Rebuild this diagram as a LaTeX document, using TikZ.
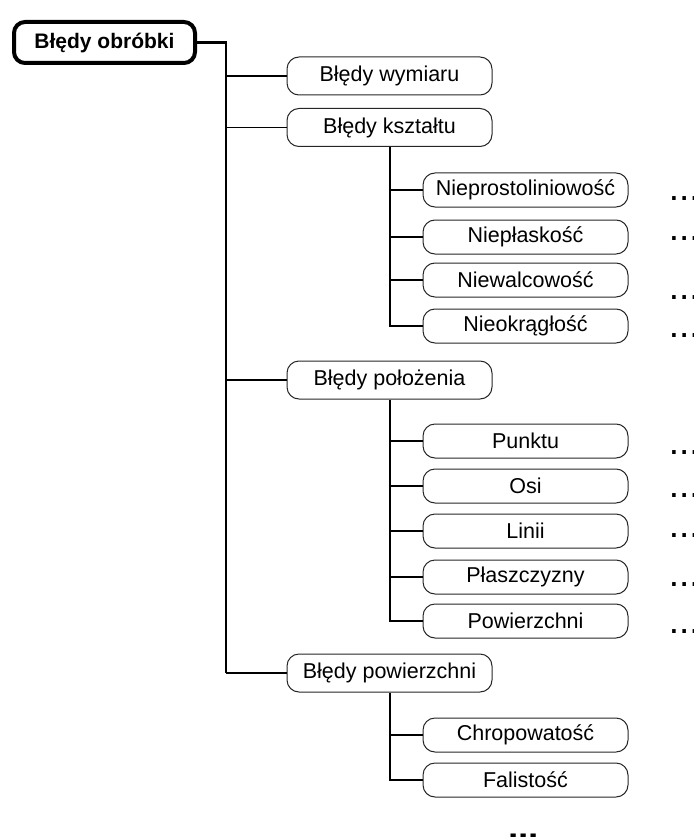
\documentclass[tikz,border=0pt]{standalone}
\usepackage{fontspec}
\setmainfont{Liberation Sans}
\begin{document}
\begin{tikzpicture}[x=1pt,y=-1pt,
  txt/.style={font=\fontsize{21.5}{25}\selectfont},
  lvlone/.style={txt, draw=black!85, line width=1pt, rounded corners=12pt,
    minimum width=205pt, minimum height=38pt, inner sep=0pt},
  lvltwo/.style={lvlone, minimum height=34pt},
  rootbox/.style={draw=black, line width=4pt, rounded corners=11pt,
    minimum width=181pt, minimum height=41pt, inner sep=0pt, font=\fontsize{21}{25}\selectfont\bfseries},
  trunk/.style={line width=2.6pt},
  link/.style={line width=1.8pt},
  more/.style={inner sep=0pt, anchor=base west, font=\fontsize{37}{37}\selectfont},
  morebold/.style={more, font=\fontsize{37}{37}\selectfont\bfseries}
]
\useasboundingbox (0,0) rectangle (693,837);

% root
\node[rootbox] (root) at (104.5,42.5) {Błędy obróbki};

% first level
\node[lvlone] (wym) at (389.5,76)    {Błędy wymiaru};
\node[lvlone] (ksz) at (389.5,127.5) {Błędy kształtu};
\node[lvlone] (pol) at (389.5,380)   {Błędy położenia};
\node[lvlone] (pow) at (389.5,673)   {Błędy powierzchni};

% shape errors
\node[lvltwo] (k1) at (525.5,190) {Nieprostoliniowość};
\node[lvltwo] (k2) at (525.5,237) {Niepłaskość};
\node[lvltwo] (k3) at (525.5,280) {Niewalcowość};
\node[lvltwo] (k4) at (525.5,326) {Nieokrągłość};

% position errors
\node[lvltwo] (p1) at (525.5,441) {Punktu};
\node[lvltwo] (p2) at (525.5,486) {Osi};
\node[lvltwo] (p3) at (525.5,531) {Linii};
\node[lvltwo] (p4) at (525.5,577) {Płaszczyzny};
\node[lvltwo] (p5) at (525.5,621) {Powierzchni};

% surface errors
\node[lvltwo] (s1) at (525.5,735) {Chropowatość};
\node[lvltwo] (s2) at (525.5,780) {Falistość};

% main trunk
\coordinate (t) at (226,0);
\draw[trunk] (root.east) -| (t |- pow.west);
\foreach \n in {wym,ksz,pol,pow}
  \draw[link] (t |- \n.west) -- (\n.west);

% second-level trunks
\coordinate (u) at (390,0);
\draw[link] (u |- ksz.south) |- (k4.west);
\foreach \n in {k1,k2,k3}
  \draw[link] (u |- \n.west) -- (\n.west);
\draw[link] (u |- pol.south) |- (p5.west);
\foreach \n in {p1,p2,p3,p4}
  \draw[link] (u |- \n.west) -- (\n.west);
\draw[link] (u |- pow.south) |- (s2.west);
\draw[link] (u |- s1.west) -- (s1.west);

% continuation marks
\node[more] (d1) at (668.6,200.8) {...};
\node[more] (d2) at (668.6,240.8) {...};
\node[more] (d3) at (668.6,299.8) {...};
\node[more] (d4) at (668.6,337.8) {...};
\node[more] (d5) at (668.6,454.8) {...};
\node[more] (d6) at (668.6,497.8) {...};
\node[more] (d7) at (668.6,537.8) {...};
\node[more] (d8) at (668.6,586.8) {...};
\node[more] (d9) at (668.6,633.8) {...};
\node[morebold] (d10) at (508,839) {...};
\end{tikzpicture}
\end{document}
